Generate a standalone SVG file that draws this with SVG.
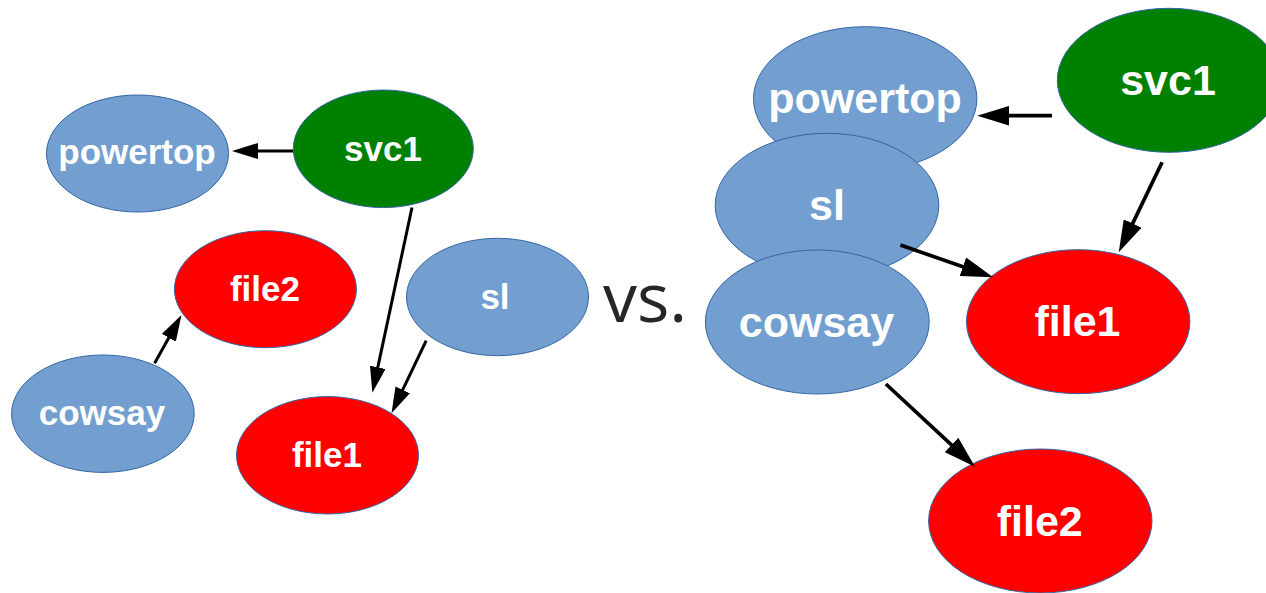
<svg xmlns="http://www.w3.org/2000/svg" width="1266" height="593" viewBox="0 0 1266 593">
<style>
.blue{fill:#729fcf;stroke:#3465a4;stroke-width:1}
.red{fill:#ff0000;stroke:#3465a4;stroke-width:1}
.green{fill:#008000;stroke:#3465a4;stroke-width:1}
.lbl{font-family:"Liberation Sans",Arial,sans-serif;font-weight:bold;fill:#fff;text-anchor:middle}
.s{font-size:35px}
.l{font-size:43px}
.e{fill:none;stroke:#000;marker-end:url(#ah)}
.es{stroke-width:3}
.el{stroke-width:3.7}
</style>
<defs>
<marker id="ah" viewBox="0 0 26 16" markerWidth="8.67" markerHeight="5.33" refX="10" refY="8" orient="auto" markerUnits="strokeWidth">
<path d="M0,0 L26,8 L0,16 z" fill="#000"/>
</marker>
</defs>
<rect width="1266" height="593" fill="#fff"/>
<!-- left diagram -->
<g id="L-powertop"><ellipse class="blue" cx="137.5" cy="153.5" rx="91" ry="58.5"/><text class="lbl s" x="137" y="164">powertop</text></g>
<g id="L-svc1"><ellipse class="green" cx="383.3" cy="148.8" rx="90" ry="58.8"/><text class="lbl s" x="383" y="161">svc1</text></g>
<g id="L-file2"><ellipse class="red" cx="265.4" cy="289.2" rx="91" ry="58.5"/><text class="lbl s" x="265" y="301">file2</text></g>
<g id="L-sl"><ellipse class="blue" cx="497.5" cy="297" rx="91" ry="58.7"/><text class="lbl s" x="495" y="309">sl</text></g>
<g id="L-cowsay"><ellipse class="blue" cx="102.9" cy="413.7" rx="91.3" ry="58.7"/><text class="lbl s" x="102" y="425">cowsay</text></g>
<g id="L-file1"><ellipse class="red" cx="327.5" cy="455.3" rx="91" ry="58.7"/><text class="lbl s" x="327" y="467">file1</text></g>
<g id="L-edges">
<line class="e es" x1="293" y1="151" x2="248" y2="151"/>
<line class="e es" x1="412" y1="207.5" x2="375.7" y2="377.1"/>
<line class="e es" x1="426.2" y1="340.7" x2="398.4" y2="398.9"/>
<line class="e es" x1="154.6" y1="363.3" x2="173.7" y2="329"/>
</g>
<text x="603" y="322" font-family="'Open Sans',sans-serif" font-size="68" fill="#262626">vs.</text>
<!-- right diagram -->
<g id="R-powertop"><ellipse class="blue" cx="865.2" cy="98.7" rx="111.7" ry="72"/><text class="lbl l" x="865" y="113.4">powertop</text></g>
<g id="R-sl"><ellipse class="blue" cx="827" cy="205.3" rx="111.8" ry="72"/><text class="lbl l" x="827" y="220">sl</text></g>
<g id="R-cowsay"><ellipse class="blue" cx="817.3" cy="322" rx="111.9" ry="72"/><text class="lbl l" x="816.5" y="336.7">cowsay</text></g>
<g id="R-svc1"><ellipse class="green" cx="1169" cy="80.3" rx="111.7" ry="72"/><text class="lbl l" x="1168" y="95">svc1</text></g>
<g id="R-file1"><ellipse class="red" cx="1078.2" cy="321.7" rx="111.7" ry="72"/><text class="lbl l" x="1077.5" y="336.4">file1</text></g>
<g id="R-file2"><ellipse class="red" cx="1040.3" cy="521" rx="111.7" ry="72"/><text class="lbl l" x="1039.7" y="535.7">file2</text></g>
<g id="R-edges">
<line class="e el" x1="1052" y1="115.7" x2="997" y2="115.7"/>
<line class="e el" x1="1162.1" y1="162.3" x2="1127.3" y2="234.6"/>
<line class="e el" x1="900.4" y1="245" x2="974.5" y2="270.8"/>
<line class="e el" x1="885.9" y1="384" x2="960.6" y2="453.3"/>
</g>
</svg>
